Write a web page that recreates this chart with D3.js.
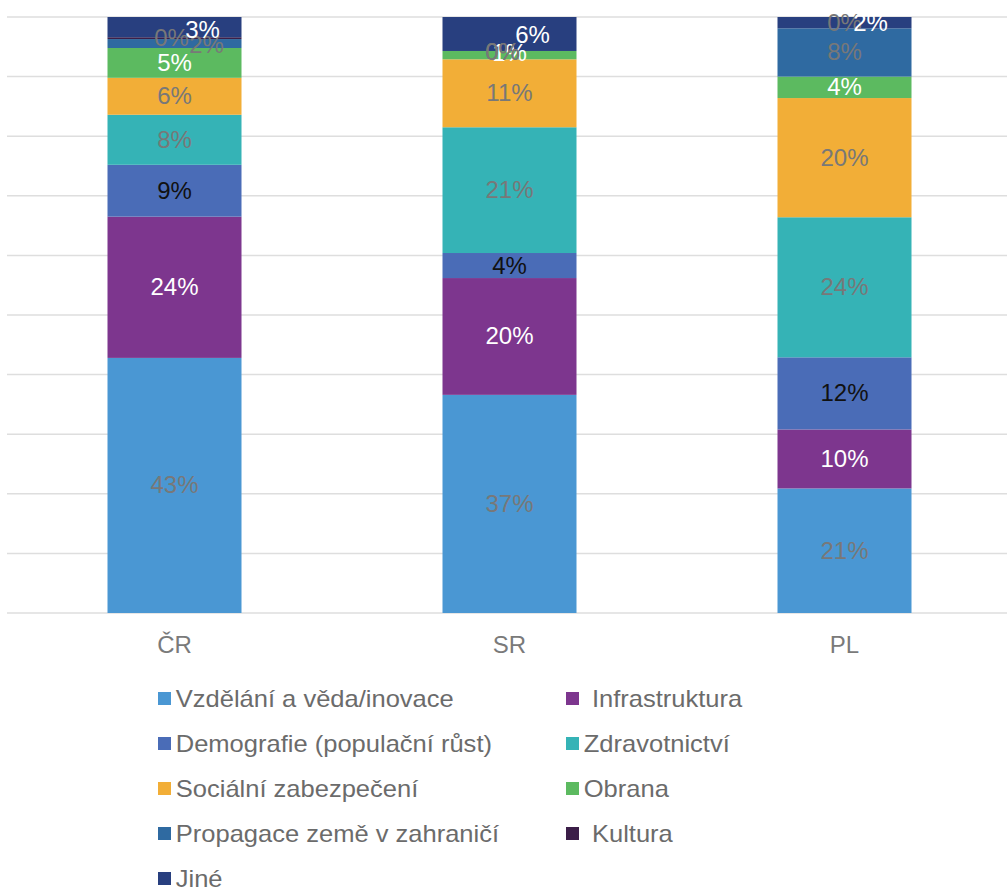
<!DOCTYPE html>
<html lang="cs">
	<head>
		<meta charset="utf-8">
		<title>Výdaje</title>
		<script type="text/javascript" src="https://cdn.jsdelivr.net/npm/d3@7/dist/d3.min.js"></script>
		<style type="text/css">
			body { margin: 0; background: #fff; }
			text { font-family: "Liberation Sans", Arial, sans-serif; }
			.pre { white-space: pre; }
		</style>
	</head>
	<body>
		<script type="text/javascript">

			// countries (x axis)
			var countries = ["ČR", "SR", "PL"]

			// series, bottom to top of each bar
			var series = [
				"Vzdělání a věda/inovace",
				"Infrastruktura",
				"Demografie (populační růst)",
				"Zdravotnictví",
				"Sociální zabezpečení",
				"Obrana",
				"Propagace země v zahraničí",
				"Kultura",
				"Jiné"
			]

			// shares in %, same order as series
			var valuesCR = [42.8, 23.7, 8.7, 8.4, 6.2, 5.0, 1.5, 0.3, 3.4]
			var valuesSR = [36.6, 19.6, 4.2, 21.1, 11.4, 1.4, 0.0, 0.0, 5.7]
			var valuesPL = [20.9, 9.9, 12.1, 23.5, 20.0, 3.6, 8.1, 0.0, 1.9]

			var gridTicks = [0, 10, 20, 30, 40, 50, 60, 70, 80, 90, 100]

			var colors = ["#4a97d3", "#7d368e", "#4a6cb7", "#35b3b6", "#f2ae37", "#5cba60", "#2f6aa1", "#3b1e48", "#283f7f"]
			var labelColors = ["#787878", "#ffffff", "#111111", "#787878", "#787878", "#ffffff", "#787878", "#787878", "#ffffff"]

			// legend order (two columns, row by row)
			var legendOrder = [0, 1, 2, 3, 4, 5, 6, 7, 8]

			// small nudges Excel made to avoid overlapping labels
			var nudge = {
				"ČR|Jiné": [28, 3], "ČR|Propagace země v zahraničí": [32, 1], "ČR|Kultura": [-3, 0],
				"SR|Jiné": [23, 1], "SR|Propagace země v zahraničí": [-7, 1], "SR|Kultura": [-7, 1], "SR|Obrana": [0, -2],
				"PL|Jiné": [26, 0], "PL|Kultura": [0, -5]
			}

			var allValues = [valuesCR, valuesSR, valuesPL]
			var table = countries.map(function(c, i) {
				var row = {country: c}
				series.forEach(function(s, j) { row[s] = allValues[i][j] })
				return row
			})

			var w = 1007, h = 892

			var svg = d3.select("body").append("svg").attr("width", w).attr("height", h)

			var xscale = d3.scaleBand()
				.domain(countries)
				.range([7, 1012])
				.paddingInner(0.6)
				.paddingOuter(0.3)

			var yscale = d3.scaleLinear()
				.domain([0, 100])
				.range([613, 17])

			// grid
			svg.selectAll(".grid")
			.data(gridTicks)
			.enter()
			.append("line")
			.attr("class", "grid")
			.attr("x1", 7)
			.attr("x2", w)
			.attr("y1", function(d) { return yscale(d) })
			.attr("y2", function(d) { return yscale(d) })
			.attr("stroke", "#dedede")
			.attr("stroke-width", 1.5)

			var stacked = d3.stack().keys(series)(table)

			var layers = svg.selectAll(".layer")
			.data(stacked)
			.enter()
			.append("g")
			.attr("class", "layer")
			.attr("fill", function(d, i) { return colors[i] })

			layers.selectAll("rect")
			.data(function(d) { return d })
			.enter()
			.append("rect")
			.attr("x", function(d) { return xscale(d.data.country) })
			.attr("y", function(d) { return yscale(d[1]) })
			.attr("width", xscale.bandwidth())
			.attr("height", function(d) { return yscale(d[0]) - yscale(d[1]) })

			// data labels
			stacked.forEach(function(layer, i) {
				svg.selectAll(".lab" + i)
				.data(layer)
				.enter()
				.append("text")
				.attr("class", "lab" + i)
				.attr("x", function(d) {
					var n = nudge[d.data.country + "|" + layer.key]
					return xscale(d.data.country) + xscale.bandwidth()/2 + (n ? n[0] : 0)
				})
				.attr("y", function(d) {
					var n = nudge[d.data.country + "|" + layer.key]
					return (yscale(d[0]) + yscale(d[1]))/2 + 8 + (n ? n[1] : 0)
				})
				.attr("text-anchor", "middle")
				.attr("font-size", "24px")
				.attr("fill", labelColors[i])
				.text(function(d) { return Math.round(d[1] - d[0]) + "%" })
			})

			// category labels
			svg.selectAll(".cat")
			.data(countries)
			.enter()
			.append("text")
			.attr("class", "cat")
			.attr("x", function(d) { return xscale(d) + xscale.bandwidth()/2 })
			.attr("y", 653)
			.attr("text-anchor", "middle")
			.attr("font-size", "24px")
			.attr("fill", "#7a7a7a")
			.text(function(d) { return d })

			// legend
			var leg = svg.selectAll(".leg")
			.data(legendOrder)
			.enter()
			.append("g")
			.attr("class", "leg")
			.attr("transform", function(d, i) {
				var col = i % 2, row = Math.floor(i / 2)
				return "translate(" + (col == 0 ? 158 : 566) + "," + (699 + row * 45) + ")"
			})

			leg.append("rect")
			.attr("x", 0)
			.attr("y", -7)
			.attr("width", 13)
			.attr("height", 13)
			.attr("fill", function(d) { return colors[d] })

			leg.append("text")
			.attr("class", "pre")
			.attr("x", function(d) { return (d == 1 || d == 7) ? 17 : 16 })
			.attr("y", 8)
			.attr("font-size", "23px")
			.attr("fill", "#6b6b6b")
			.attr("transform", "scale(1.11,1)")
			.text(function(d) { return (d == 1 || d == 7 ? " " : "") + series[d] })

		</script>
	</body>
</html>
